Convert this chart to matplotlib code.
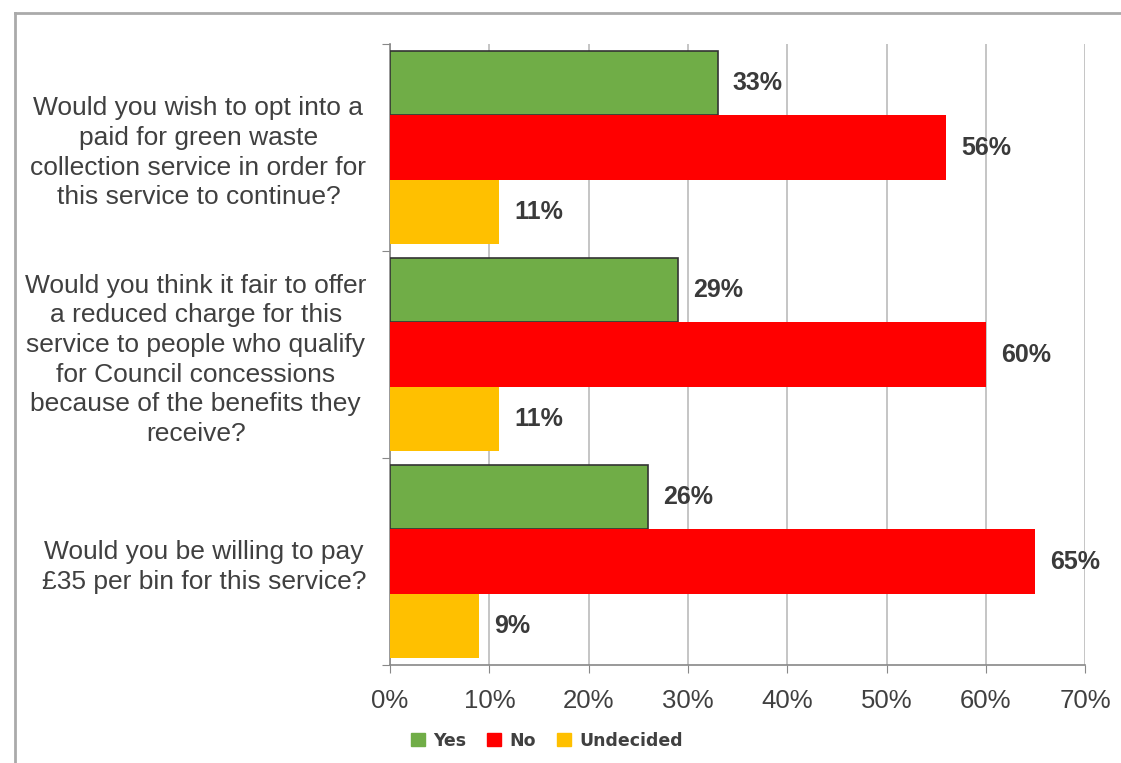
import numpy as np
import matplotlib.pyplot as plt
from matplotlib.lines import Line2D
from matplotlib.patches import Patch

plt.rcParams['font.family'] = ['Liberation Sans', 'DejaVu Sans']

questions = [
    "Would you wish to opt into a\npaid for green waste\ncollection service in order for\nthis service to continue?",
    "Would you think it fair to offer\na reduced charge for this\nservice to people who qualify\nfor Council concessions\nbecause of the benefits they\nreceive?",
    "Would you be willing to pay\n£35 per bin for this service?",
]
yes = [33, 29, 26]
no = [56, 60, 65]
undecided = [11, 11, 9]

series = ["Yes", "No", "Undecided"]
colors = ["#70AD47", "#FF0000", "#FFC000"]
text_col = "#404040"

fig = plt.figure(figsize=(11.21, 7.63), dpi=100)
ax = fig.add_axes([0.348, 0.1284, 0.62, 0.8139])

ypos = np.arange(len(questions))
h = 0.31
offsets = [-h, 0, h]
for vals, off, col, name in zip([yes, no, undecided], offsets, colors, series):
    edge = "#333333" if name == "Yes" else "none"
    lw = 1.2 if name == "Yes" else 0
    bars = ax.barh(ypos + off, vals, height=h, color=col, edgecolor=edge,
                   linewidth=lw, label=name, zorder=3)
    for b, v in zip(bars, vals):
        ax.text(b.get_width() + 1.5, b.get_y() + b.get_height() / 2, f"{v}%",
                va="center", ha="left", fontsize=18, fontweight="bold",
                color="#3a3a3a", zorder=4)

ax.set_ylim(2.5, -0.5)
ax.set_xlim(0, 70)
ax.set_xticks(np.arange(0, 71, 10))
ax.set_xticklabels([f"{t}%" for t in range(0, 71, 10)])
ax.tick_params(axis="x", labelsize=18.5, labelcolor=text_col, color="#888888",
               length=6, pad=11)
ax.grid(axis="x", color="#BBBBBB", linewidth=1.2, zorder=0)

# category boundaries carry the y ticks, labels sit at the group centres
ax.set_yticks(np.arange(-0.5, 3, 1))
ax.set_yticklabels([])
ax.tick_params(axis="y", color="#888888", length=6)
ax.set_yticks(ypos, minor=True)
ax.set_yticklabels(questions, minor=True)
ax.tick_params(axis="y", which="minor", length=0, pad=17, labelsize=19,
               labelcolor=text_col)
for lbl in ax.get_yticklabels(minor=True):
    lbl.set_multialignment("center")
    lbl.set_linespacing(1.3)

for s in ["top", "right"]:
    ax.spines[s].set_visible(False)
for s in ["left", "bottom"]:
    ax.spines[s].set_color("#888888")
    ax.spines[s].set_linewidth(1.2)

handles = [Patch(color=c) for c in colors]
fig.legend(handles, series, loc="center", bbox_to_anchor=(0.488, 0.029),
           ncol=3, frameon=False, handlelength=0.8, handleheight=0.8,
           handletextpad=0.5, columnspacing=1.2,
           prop={"family": "DejaVu Sans", "size": 12.5, "weight": "bold"},
           labelcolor=text_col)

# outer frame
fig.add_artist(Line2D([0.013, 0.013], [0, 0.983], color="#AAAAAA", lw=2))
fig.add_artist(Line2D([0.013, 1.0], [0.983, 0.983], color="#AAAAAA", lw=2))

fig.savefig("out.png", dpi=100)
